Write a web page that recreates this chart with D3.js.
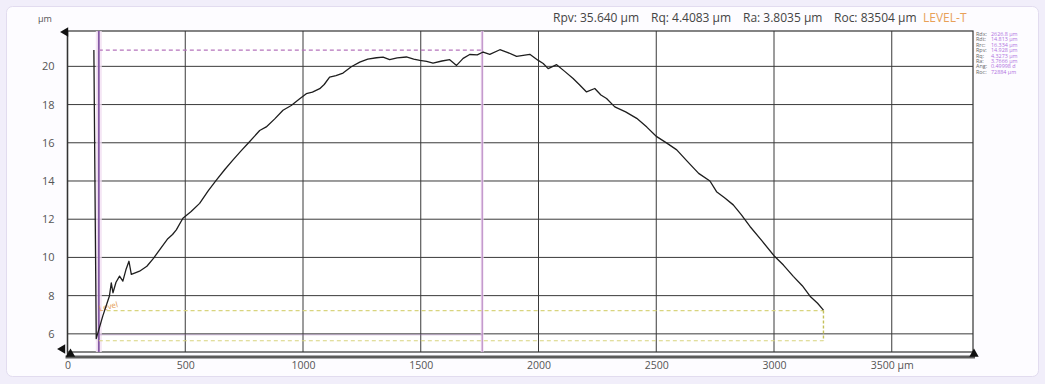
<!DOCTYPE html>
<html>
<head>
<meta charset="utf-8">
<script src="https://cdn.jsdelivr.net/npm/d3@7"></script>
<style>
  body { margin: 0; background: #f1eefa; }
  text { font-family: "Open Sans", sans-serif; }
</style>
</head>
<body>
<svg id="chart" width="1045" height="384"></svg>
<script>
// profile (µm along the trace, µm height)
const profileX = [112, 122, 150, 178, 186, 193, 206, 221, 235, 248, 261, 271, 290, 306, 337, 365, 391, 426, 446, 462,
  490, 525, 561, 598, 632, 668, 702, 735, 766, 816, 844, 880, 915, 950, 986, 1014, 1040, 1071, 1090, 1113, 1140,
  1170, 1205, 1241, 1275, 1312, 1340, 1368, 1400, 1439, 1470, 1496, 1525, 1552, 1590, 1623, 1652, 1680, 1708, 1740,
  1765, 1793, 1836, 1870, 1907, 1963, 1999, 2020, 2041, 2077, 2110, 2147, 2175, 2204, 2239, 2265, 2289, 2324, 2370,
  2417, 2460, 2502, 2545, 2587, 2630, 2680, 2728, 2756, 2790, 2827, 2860, 2898, 2950, 3000, 3040, 3082, 3120, 3153,
  3185, 3210];
const profileY = [20.85, 5.75, 6.94, 7.98, 8.67, 8.15, 8.7, 9.02, 8.76, 9.35, 9.8, 9.11, 9.2, 9.28, 9.54, 9.95, 10.4,
  10.98, 11.2, 11.44, 12.05, 12.4, 12.83, 13.5, 14.05, 14.6, 15.09, 15.55, 15.96, 16.64, 16.83, 17.25, 17.7, 17.95,
  18.3, 18.57, 18.65, 18.83, 19.05, 19.44, 19.52, 19.65, 19.98, 20.22, 20.38, 20.45, 20.48, 20.35, 20.44, 20.49,
  20.38, 20.31, 20.26, 20.17, 20.28, 20.35, 20.05, 20.42, 20.62, 20.6, 20.75, 20.63, 20.87, 20.72, 20.52, 20.63,
  20.31, 20.15, 19.88, 20.09, 19.75, 19.36, 19.02, 18.66, 18.84, 18.5, 18.32, 17.88, 17.62, 17.28, 16.82, 16.32,
  15.98, 15.63, 15.05, 14.4, 14.0, 13.44, 13.12, 12.75, 12.25, 11.62, 10.85, 10.09, 9.6, 9.01, 8.52, 7.97, 7.6, 7.24];

const xTicks = [0, 500, 1000, 1500, 2000, 2500, 3000, 3500];
const yTicks = [6, 8, 10, 12, 14, 16, 18, 20];

// cursor box and level lines
const cursorX = [133, 1761];
const cursorY = [5.95, 20.85];
const levelY = [7.22, 5.64];
const levelX = [166, 3210];

const headerItems = ['Rpv: 35.640 µm', 'Rq: 4.4083 µm', 'Ra: 3.8035 µm', 'Roc: 83504 µm'];
const headerPos = [553, 651, 743, 834];
const sideLabels = ['Rdx:', 'Rdt:', 'Rrc:', 'Rpv:', 'Rq:', 'Ra:', 'Ang:', 'Roc:'];
const sideValues = ['2626.8 µm', '14.813 µm', '16.334 µm', '14.928 µm', '4.3273 µm', '3.7666 µm', '0.49998 d', '72884 µm'];

const svg = d3.select('#chart');
const plotL = 67.5, plotR = 973, plotT = 31, plotB = 352;

const x = d3.scaleLinear().domain([0, 3845]).range([plotL, plotR]);
const y = d3.scaleLinear().domain([5.05, 21.85]).range([plotB, plotT]);

// panel
svg.append('rect')
  .attr('x', 6.5).attr('y', 6.5).attr('width', 1032).attr('height', 370)
  .attr('rx', 6)
  .attr('fill', '#fdfcff')
  .attr('stroke', '#e2dcef');

svg.append('rect')
  .attr('x', plotL).attr('y', plotT).attr('width', plotR - plotL).attr('height', plotB - plotT)
  .attr('fill', '#ffffff');

// grid
svg.append('g')
  .selectAll('line')
  .data(yTicks)
  .join('line')
  .attr('x1', plotL).attr('x2', plotR)
  .attr('y1', d => y(d)).attr('y2', d => y(d))
  .attr('stroke', '#3a3a3a').attr('stroke-width', 1);

svg.append('g')
  .selectAll('line')
  .data(xTicks.slice(1))
  .join('line')
  .attr('x1', d => x(d)).attr('x2', d => x(d))
  .attr('y1', plotT).attr('y2', plotB)
  .attr('stroke', '#3a3a3a').attr('stroke-width', 1);

svg.append('rect')
  .attr('x', plotL).attr('y', plotT).attr('width', plotR - plotL).attr('height', plotB - plotT)
  .attr('fill', 'none').attr('stroke', '#333').attr('stroke-width', 1.2);

// cursor lines
cursorX.forEach((v, i) => {
  svg.append('line')
    .attr('x1', x(v)).attr('x2', x(v)).attr('y1', plotT).attr('y2', plotB)
    .attr('stroke', '#f3e0f3').attr('stroke-width', i === 0 ? 6 : 3).attr('opacity', 0.8);
  svg.append('line')
    .attr('x1', x(v)).attr('x2', x(v)).attr('y1', plotT).attr('y2', plotB)
    .attr('stroke', i === 0 ? '#8458a4' : '#b583c2').attr('stroke-width', i === 0 ? 1.8 : 1.1);
});

svg.append('line')
  .attr('x1', x(cursorX[0])).attr('x2', x(cursorX[1]))
  .attr('y1', y(cursorY[1])).attr('y2', y(cursorY[1]))
  .attr('stroke', '#b574bc').attr('stroke-width', 1.1).attr('stroke-dasharray', '4,3');

svg.append('line')
  .attr('x1', x(cursorX[0])).attr('x2', x(cursorX[1]))
  .attr('y1', y(cursorY[0])).attr('y2', y(cursorY[0]))
  .attr('stroke', '#9a70b0').attr('stroke-width', 1).attr('opacity', 0.45);

// level lines
svg.append('line')
  .attr('x1', x(levelX[0])).attr('x2', x(levelX[1]))
  .attr('y1', y(levelY[0])).attr('y2', y(levelY[0]))
  .attr('stroke', '#d8d47e').attr('stroke-width', 1.2).attr('stroke-dasharray', '4,3');
svg.append('line')
  .attr('x1', x(cursorX[0])).attr('x2', x(levelX[1]))
  .attr('y1', y(levelY[1])).attr('y2', y(levelY[1]))
  .attr('stroke', '#d8d47e').attr('stroke-width', 1.2).attr('stroke-dasharray', '4,3');
svg.append('line')
  .attr('x1', x(levelX[1])).attr('x2', x(levelX[1]))
  .attr('y1', y(levelY[0])).attr('y2', y(levelY[1]))
  .attr('stroke', '#c4c05a').attr('stroke-width', 1.4).attr('stroke-dasharray', '3,2');

svg.append('text')
  .attr('x', x(cursorX[0]) + 1).attr('y', y(levelY[0]) + 1)
  .attr('font-size', 8).attr('fill', '#e39a4e')
  .attr('transform', `rotate(-14, ${x(cursorX[0]) + 1}, ${y(levelY[0]) + 1})`)
  .text('Level');

// profile
const pts = profileX.map((d, i) => [d, profileY[i]]);
svg.append('path')
  .datum(pts)
  .attr('d', d3.line().x(d => x(d[0])).y(d => y(d[1])))
  .attr('fill', 'none')
  .attr('stroke', '#1e1e1e')
  .attr('stroke-width', 1.3)
  .attr('stroke-linejoin', 'round');

// axes labels
const yAxis = d3.axisLeft(y).tickValues(yTicks).tickSize(0).tickPadding(13);
svg.append('g')
  .attr('transform', `translate(${plotL},0)`)
  .call(yAxis)
  .call(g => g.select('.domain').remove())
  .call(g => g.selectAll('text').attr('font-size', 11).attr('fill', '#555').attr('font-family', '"Open Sans", sans-serif'));

const xAxis = d3.axisBottom(x).tickValues(xTicks).tickSize(0).tickPadding(10)
  .tickFormat(d => d === 3500 ? '3500 µm' : d);
svg.append('g')
  .attr('transform', `translate(0,${plotB})`)
  .call(xAxis)
  .call(g => g.select('.domain').remove())
  .call(g => g.selectAll('text').attr('font-size', 10.5).attr('fill', '#555').attr('font-family', '"Open Sans", sans-serif'));

// thick base axis with arrow heads
svg.append('line')
  .attr('x1', plotL - 2).attr('x2', plotR + 2).attr('y1', plotB + 5).attr('y2', plotB + 5)
  .attr('stroke', '#5a5a5a').attr('stroke-width', 3);
svg.append('line')
  .attr('x1', plotL).attr('x2', plotL).attr('y1', plotT).attr('y2', plotB + 5)
  .attr('stroke', '#333').attr('stroke-width', 1.4);
const tri = d3.symbol().type(d3.symbolTriangle).size(38);
svg.append('path').attr('d', tri).attr('transform', `translate(${plotR + 1},${plotB + 2})`).attr('fill', '#111');
svg.append('path').attr('d', tri).attr('transform', `translate(${plotL + 3},${plotB + 2})`).attr('fill', '#111');
svg.append('path').attr('d', tri).attr('transform', `translate(${plotL - 5},${plotB - 3}) rotate(-90)`).attr('fill', '#111');
svg.append('path').attr('d', tri).attr('transform', `translate(${plotL - 2},${plotT + 1}) rotate(-90)`).attr('fill', '#111');

svg.append('text')
  .attr('x', 45).attr('y', 22).attr('text-anchor', 'middle')
  .attr('font-size', 9).attr('fill', '#555')
  .text('µm');

// header
svg.append('g')
  .selectAll('text')
  .data(headerItems)
  .join('text')
  .attr('x', (d, i) => headerPos[i]).attr('y', 22)
  .attr('font-size', 12).attr('fill', '#444')
  .text(d => d);
svg.append('text')
  .attr('x', 923).attr('y', 22)
  .attr('font-size', 12).attr('fill', '#e8a058')
  .text('LEVEL-T');

// side readout
const side = svg.append('g').attr('font-size', 5.4);
side.selectAll('text.lab')
  .data(sideLabels)
  .join('text')
  .attr('class', 'lab')
  .attr('x', 976).attr('y', (d, i) => 36 + i * 5.4)
  .attr('fill', '#666')
  .text(d => d);
side.selectAll('text.val')
  .data(sideValues)
  .join('text')
  .attr('class', 'val')
  .attr('x', 991).attr('y', (d, i) => 36 + i * 5.4)
  .attr('fill', '#b070e0')
  .text(d => d);
</script>
</body>
</html>
